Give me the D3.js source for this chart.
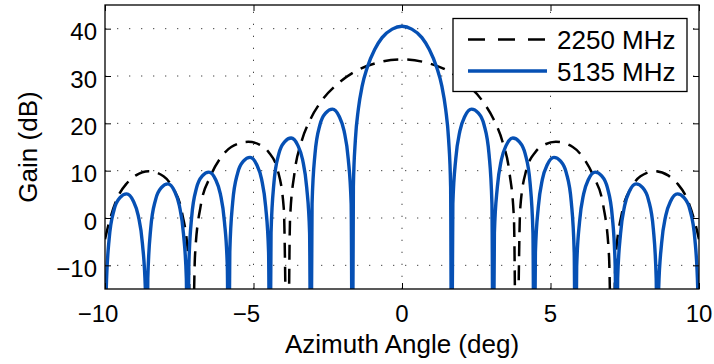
<!DOCTYPE html>
<html><head><meta charset="utf-8">
<script src="https://cdn.jsdelivr.net/npm/d3@7/dist/d3.min.js"></script>
<style>
body{margin:0;background:#fff;}
text{font-family:"Liberation Sans",Arial,Helvetica,sans-serif;fill:#000;}
</style>
</head><body>
<svg id="chart" width="714" height="364"></svg>
<script>
// ---------- data ----------
const xTicks = [-10, -5, 0, 5, 10];
const yTicks = [-10, 0, 10, 20, 30, 40];
const seriesNames = ["2250 MHz", "5135 MHz"];
const xLabel = "Azimuth Angle (deg)";
const yLabel = "Gain (dB)";

// 2250 MHz (dashed black)
const angle2250 = [
  -10, -9.89, -9.58, -9.27, -8.96, -8.53, -8.03, -7.72, -7.41, -7.19, -7.08,
  -6.97, -6.78, -6.45, -6.13, -5.75, -5.18, -4.8, -4.5, -4.18, -3.98, -3.85,
  -3.77, -3.62, -3.39, -3.08, -2.70, -2.12, -1.54, -0.77, 0,
  0.77, 1.54, 2.12, 2.70, 3.08, 3.39, 3.62, 3.77,
  3.85, 3.98, 4.18, 4.5, 4.8, 5.18, 5.75, 6.13, 6.45, 6.78, 6.97,
  7.08, 7.19, 7.41, 7.72, 8.03, 8.53, 8.96, 9.27, 9.58, 9.89, 10
];
const gain2250 = [
  -4.5, -1.6, 4.3, 7.3, 9.0, 9.9, 8.8, 6.4, 1.2, -8.8, -40,
  -8.0, 2.5, 8.8, 12.5, 15.0, 16.1, 15.5, 14.0, 10.0, 2.0, -40,
  -0.3, 9.5, 16.0, 20.9, 24.8, 28.6, 31.1, 32.9, 33.5,
  32.9, 31.1, 28.6, 24.8, 20.9, 16.0, 9.5, -0.3,
  -40, 2.0, 10.0, 14.0, 15.5, 16.1, 15.0, 12.5, 8.8, 2.5, -8.0,
  -40, -8.8, 1.2, 6.4, 8.8, 9.9, 9.0, 7.3, 4.3, -1.6, -4.5
];

// 5135 MHz (solid blue)
const angle5135 = [
  -10, -9.958, -9.86, -9.692, -9.496, -9.272, -9.048, -8.88, -8.74, -8.642,
  -8.6, -8.559, -8.462, -8.296, -8.103, -7.882, -7.662, -7.496, -7.358, -7.261,
  -7.22, -7.179, -7.082, -6.916, -6.723, -6.502, -6.282, -6.116, -5.978, -5.881,
  -5.84, -5.798, -5.701, -5.534, -5.34, -5.117, -4.895, -4.728, -4.589, -4.492,
  -4.45, -4.409, -4.312, -4.146, -3.953, -3.732, -3.512, -3.346, -3.208, -3.111,
  -3.07, -3.028, -2.93, -2.762, -2.566, -2.342, -2.118, -1.95, -1.81, -1.712,
  -1.67, -1.637, -1.57, -1.47, -1.34, -1.17, -0.92, -0.67, -0.33, 0,
  0.33, 0.67, 0.92, 1.17, 1.34, 1.47, 1.57, 1.637, 1.67,
  1.712, 1.81, 1.95, 2.118, 2.342, 2.566, 2.762, 2.93, 3.028, 3.07,
  3.111, 3.208, 3.346, 3.512, 3.732, 3.953, 4.146, 4.312, 4.409, 4.45,
  4.492, 4.589, 4.728, 4.895, 5.117, 5.34, 5.534, 5.701, 5.798, 5.84,
  5.881, 5.978, 6.116, 6.282, 6.502, 6.723, 6.916, 7.082, 7.179, 7.22,
  7.261, 7.358, 7.496, 7.662, 7.882, 8.103, 8.296, 8.462, 8.559, 8.6,
  8.642, 8.74, 8.88, 9.048, 9.272, 9.496, 9.692, 9.86, 9.958, 10
];
const gain5135 = [
  -40, -14.9, -4.4, 1.8, 4.3, 5.1, 3.6, 0.5, -5.4, -14.9,
  -40, -12.8, -2.3, 3.9, 6.4, 7.2, 5.7, 2.6, -3.3, -12.8,
  -40, -10.3, 0.2, 6.4, 8.9, 9.7, 8.2, 5.1, -0.8, -10.3,
  -40, -7.2, 3.3, 9.5, 12.0, 12.8, 11.3, 8.2, 2.3, -7.2,
  -40, -3.1, 7.4, 13.6, 16.1, 16.9, 15.4, 12.3, 6.4, -3.1,
  -40, 3.0, 13.5, 19.7, 22.2, 23.0, 21.5, 18.4, 12.5, 3.0,
  -40, 6.7, 16.5, 23.0, 27.9, 31.8, 35.6, 38.1, 39.9, 40.5,
  39.9, 38.1, 35.6, 31.8, 27.9, 23.0, 16.5, 6.7, -40,
  3.0, 12.5, 18.4, 21.5, 23.0, 22.2, 19.7, 13.5, 3.0, -40,
  -3.1, 6.4, 12.3, 15.4, 16.9, 16.1, 13.6, 7.4, -3.1, -40,
  -7.2, 2.3, 8.2, 11.3, 12.8, 12.0, 9.5, 3.3, -7.2, -40,
  -10.3, -0.8, 5.1, 8.2, 9.7, 8.9, 6.4, 0.2, -10.3, -40,
  -12.8, -3.3, 2.6, 5.7, 7.2, 6.4, 3.9, -2.3, -12.8, -40,
  -14.9, -5.4, 0.5, 3.6, 5.1, 4.3, 1.8, -4.4, -14.9, -40
];

// ---------- layout ----------
const W = 714, H = 364;
const m = {left: 105, right: 699, top: 5, bottom: 289};
const tickFont = 24, labelFont = 26, legendFont = 26;
const blue = "#0650b4";

const svg = d3.select("#chart");
const x = d3.scaleLinear().domain([-10, 10]).range([m.left, m.right]);
const y = d3.scaleLinear().domain([-15, 45]).range([m.bottom, m.top]);

svg.append("rect").attr("x", 0).attr("y", 0).attr("width", W).attr("height", H).attr("fill", "#fff");

svg.append("defs").append("clipPath").attr("id", "clip")
  .append("rect").attr("x", m.left).attr("y", m.top)
  .attr("width", m.right - m.left).attr("height", m.bottom - m.top);

// grid
const grid = svg.append("g").attr("stroke", "#444").attr("stroke-width", 1)
  .attr("stroke-dasharray", "1.3,10.7");
xTicks.filter(v => v > -10 && v < 10).forEach(v => {
  grid.append("line").attr("x1", x(v)).attr("x2", x(v)).attr("y1", m.bottom).attr("y2", m.top);
});
yTicks.forEach(v => {
  grid.append("line").attr("y1", y(v)).attr("y2", y(v)).attr("x1", m.left).attr("x2", m.right);
});

// series
const line = d3.line().x(d => x(d[0])).y(d => y(d[1])).curve(d3.curveMonotoneX);
const plot = svg.append("g").attr("clip-path", "url(#clip)");
const pts2250 = angle2250.map((a, i) => [a, gain2250[i]]);
const pts5135 = angle5135.map((a, i) => [a, gain5135[i]]);
plot.append("path").attr("d", line(pts2250)).attr("fill", "none")
  .attr("stroke", "#000").attr("stroke-width", 2.5).attr("stroke-dasharray", "15,9");
plot.append("path").attr("d", line(pts5135)).attr("fill", "none")
  .attr("stroke", blue).attr("stroke-width", 3.4).attr("stroke-linejoin", "round");

// axes (MATLAB-style box with inward ticks)
const axG = svg.append("g");
const xAxB = d3.axisBottom(x).tickValues(xTicks).tickSize(-6).tickFormat("");
const xAxT = d3.axisTop(x).tickValues(xTicks).tickSize(-6).tickFormat("");
const yAxL = d3.axisLeft(y).tickValues(yTicks).tickSize(-6).tickFormat("");
const yAxR = d3.axisRight(y).tickValues(yTicks).tickSize(-6).tickFormat("");
axG.append("g").attr("transform", `translate(0,${m.bottom})`).call(xAxB);
axG.append("g").attr("transform", `translate(0,${m.top})`).call(xAxT);
axG.append("g").attr("transform", `translate(${m.left},0)`).call(yAxL);
axG.append("g").attr("transform", `translate(${m.right},0)`).call(yAxR);
axG.selectAll(".domain").remove();
axG.selectAll(".tick line").attr("stroke", "#000").attr("stroke-width", 1);
svg.append("rect").attr("x", m.left).attr("y", m.top)
  .attr("width", m.right - m.left).attr("height", m.bottom - m.top)
  .attr("fill", "none").attr("stroke", "#000").attr("stroke-width", 1.3);

const fmt = v => (v < 0 ? "\u2212" : "") + Math.abs(v);

// measure helper
const meas = svg.append("text").attr("font-size", tickFont).attr("x", -100).attr("y", -100);
function textW(s, fs) { meas.attr("font-size", fs).text(s); return meas.node().getComputedTextLength(); }

// x tick labels: digits centred on the tick, minus hanging to the left
xTicks.forEach(v => {
  const w = textW(String(Math.abs(v)), tickFont);
  svg.append("text").attr("x", x(v) + w / 2).attr("y", m.bottom + 33)
    .attr("text-anchor", "end").attr("font-size", tickFont).text(fmt(v));
});
// y tick labels
yTicks.forEach(v => {
  svg.append("text").attr("x", 97).attr("y", y(v) + 11.5)
    .attr("text-anchor", "end").attr("font-size", tickFont).text(fmt(v));
});
meas.remove();

// axis labels
svg.append("text").attr("x", (m.left + m.right) / 2).attr("y", 353)
  .attr("text-anchor", "middle").attr("font-size", labelFont).text(xLabel);
svg.append("text").attr("transform", `translate(37,${(m.top + m.bottom) / 2}) rotate(-90)`)
  .attr("text-anchor", "middle").attr("font-size", labelFont).text(yLabel);

// legend
const lg = svg.append("g");
lg.append("rect").attr("x", 453).attr("y", 18.5).attr("width", 234).attr("height", 73)
  .attr("fill", "#fff").attr("stroke", "#000").attr("stroke-width", 1.3);
const legendStyles = [
  {stroke: "#000", width: 2.5, dash: "17,13"},
  {stroke: blue, width: 3.4, dash: null}
];
seriesNames.forEach((name, i) => {
  const ly = [39.5, 71][i];
  const l = lg.append("line").attr("x1", 468).attr("x2", 547).attr("y1", ly).attr("y2", ly)
    .attr("stroke", legendStyles[i].stroke).attr("stroke-width", legendStyles[i].width);
  if (legendStyles[i].dash) l.attr("stroke-dasharray", legendStyles[i].dash);
  lg.append("text").attr("x", 557).attr("y", ly + 9.5).attr("font-size", legendFont).text(name);
});
</script>
</body></html>
